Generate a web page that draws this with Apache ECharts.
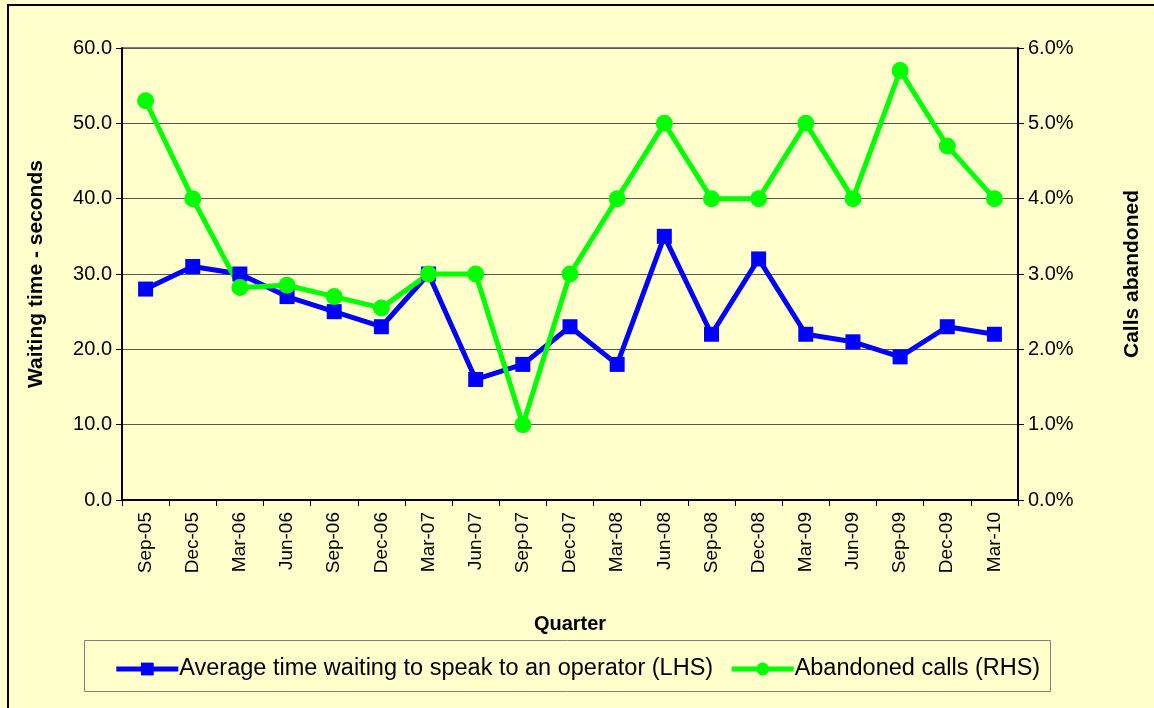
<!DOCTYPE html>
<html>
<head>
<meta charset="utf-8">
<title>Waiting time and abandoned calls</title>
<script src="https://cdn.jsdelivr.net/npm/echarts@6/dist/echarts.min.js"></script>
<style>
  html, body { margin: 0; padding: 0; background: #FFFFCC; }
  #chart { width: 1154px; height: 708px; }
</style>
</head>
<body>
<div id="chart"></div>
<script>
// quarters
var quarters = ['Sep-05', 'Dec-05', 'Mar-06', 'Jun-06', 'Sep-06', 'Dec-06', 'Mar-07', 'Jun-07', 'Sep-07', 'Dec-07',
  'Mar-08', 'Jun-08', 'Sep-08', 'Dec-08', 'Mar-09', 'Jun-09', 'Sep-09', 'Dec-09', 'Mar-10'];
// seconds (LHS)
var waitTime = [28, 31, 30, 27, 25, 23, 30, 16, 18, 23, 18, 35, 22, 32, 22, 21, 19, 23, 22];
// percent (RHS)
var abandoned = [5.3, 4.0, 2.82, 2.85, 2.7, 2.55, 3.0, 3.0, 1.0, 3.0, 4.0, 5.0, 4.0, 4.0, 5.0, 4.0, 5.7, 4.7, 4.0];

var font = 'Arial, "Liberation Sans", sans-serif';
var chart = echarts.init(document.getElementById('chart'));

chart.setOption({
  backgroundColor: '#FFFFCC',
  animation: false,
  textStyle: { fontFamily: font },
  graphic: [{
    type: 'rect',
    shape: { x: 8, y: 5, width: 1160, height: 720 },
    style: { fill: null, stroke: '#000', lineWidth: 2 },
    silent: true
  }, {
    type: 'rect',
    shape: { x: 84.5, y: 640.5, width: 966, height: 51 },
    style: { fill: null, stroke: '#808080', lineWidth: 1 },
    silent: true
  }, {
    // grey top edge of the plot area
    type: 'line',
    shape: { x1: 122, y1: 48, x2: 1018, y2: 48 },
    style: { stroke: '#808080', lineWidth: 2 },
    silent: true
  }],
  legend: {
    left: 'center',
    top: 652,
    itemGap: 16,
    itemWidth: 62,
    itemHeight: 16,
    lineStyle: { width: 5 },
    textStyle: { fontSize: 23.5, color: '#000', fontFamily: font, padding: [0, 0, 0, -4] },
    data: ['Average time waiting to speak to an operator (LHS)', 'Abandoned calls (RHS)']
  },
  grid: {
    left: 122, right: 136, top: 48, bottom: 208,
    show: true,
    backgroundColor: '#FFFFCC',
    borderWidth: 0
  },
  xAxis: {
    type: 'category',
    data: quarters,
    boundaryGap: true,
    name: 'Quarter',
    nameLocation: 'middle',
    nameGap: 114,
    nameTextStyle: { fontSize: 20, fontWeight: 'bold', color: '#000' },
    axisLine: { lineStyle: { color: '#000', width: 2 } },
    axisTick: { show: true, length: 6, lineStyle: { color: '#000' } },
    axisLabel: { rotate: 90, fontSize: 19, color: '#000', margin: 12, interval: 0 }
  },
  yAxis: [{
    type: 'value',
    min: 0, max: 60, interval: 10,
    name: 'Waiting time - seconds',
    nameLocation: 'middle',
    nameGap: 75,
    nameRotate: 90,
    nameTextStyle: { fontSize: 21, fontWeight: 'bold', color: '#000' },
    axisLine: { show: true, lineStyle: { color: '#000', width: 2 } },
    axisTick: { show: true, length: 6, lineStyle: { color: '#000' } },
    axisLabel: { fontSize: 20, color: '#000', margin: 10, formatter: function (v) { return v.toFixed(1); } },
    splitLine: { show: true, lineStyle: { color: '#555', width: 1 } }
  }, {
    type: 'value',
    min: 0, max: 6, interval: 1,
    position: 'right',
    name: 'Calls abandoned',
    nameLocation: 'middle',
    nameGap: 104,
    nameRotate: 90,
    nameTextStyle: { fontSize: 21, fontWeight: 'bold', color: '#000' },
    axisLine: { show: true, lineStyle: { color: '#000', width: 2 } },
    axisTick: { show: true, length: 6, lineStyle: { color: '#000' } },
    axisLabel: { fontSize: 20, color: '#000', margin: 10, formatter: function (v) { return v.toFixed(1) + '%'; } },
    splitLine: { show: false }
  }],
  series: [{
    name: 'Average time waiting to speak to an operator (LHS)',
    type: 'line',
    yAxisIndex: 0,
    data: waitTime,
    symbol: 'rect',
    symbolSize: 15,
    lineStyle: { color: '#0000FF', width: 5 },
    itemStyle: { color: '#0000FF' }
  }, {
    name: 'Abandoned calls (RHS)',
    type: 'line',
    yAxisIndex: 1,
    data: abandoned,
    symbol: 'circle',
    symbolSize: 17,
    lineStyle: { color: '#00FF00', width: 5 },
    itemStyle: { color: '#00FF00' }
  }]
});
</script>
</body>
</html>
